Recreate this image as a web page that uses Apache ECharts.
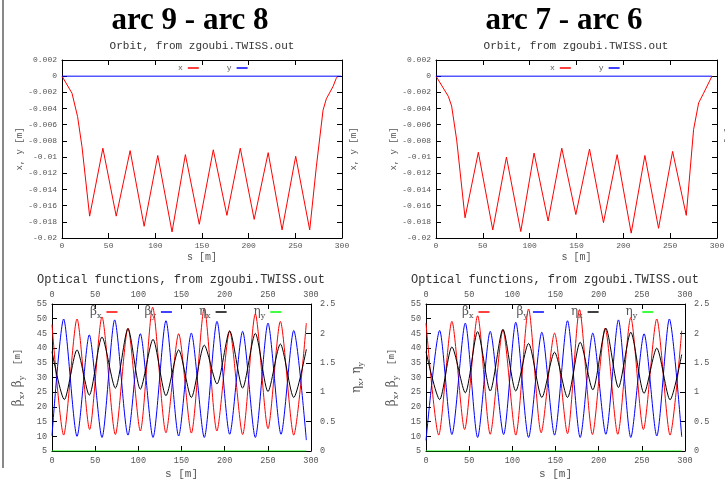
<!DOCTYPE html>
<html>
<head>
<meta charset="utf-8">
<script src="https://cdn.jsdelivr.net/npm/echarts@6/dist/echarts.min.js"></script>
<style>
  html, body { margin: 0; padding: 0; background: #fff; }
  #chart { width: 725px; height: 480px; }
</style>
</head>
<body>
<div id="chart"></div>
<script>
// ---- Closed orbit, arc 9 - arc 8 (s in m, x in m) ----
const orbitA_s = [0, 10.7, 16.7, 21.4, 29.6, 43.8, 58.1, 73.0, 88.0, 102.6, 117.9, 132.2, 147.1, 162.1, 176.7, 191.0, 205.9, 220.9, 235.8, 250.4, 265.4, 272.5, 279.7, 283.2, 290.3, 293.9, 295.7];
const orbitA_x = [0, -0.0021, -0.0050, -0.0087, -0.0173, -0.0089, -0.0173, -0.0092, -0.01855, -0.0098, -0.01925, -0.0097, -0.0183, -0.0091, -0.0172, -0.0089, -0.0177, -0.00945, -0.0190, -0.0099, -0.0190, -0.0112, -0.0042, -0.0028, -0.0013, -0.00025, 0];
const orbitA_ys = [0, 299];
const orbitA_y = [0, 0];

// ---- Closed orbit, arc 7 - arc 6 ----
const orbitB_s = [0, 13.2, 16.7, 22.1, 31.0, 45.2, 60.6, 75.2, 90.5, 104.7, 119.7, 134.3, 149.3, 163.9, 178.8, 193.4, 208.4, 223.0, 237.6, 252.6, 267.2, 275.0, 280.4, 285.7, 294.6];
const orbitB_x = [0, -0.0025, -0.0037, -0.0079, -0.0175, -0.0094, -0.0190, -0.0100, -0.0192, -0.0095, -0.0179, -0.0089, -0.0171, -0.0090, -0.0181, -0.0097, -0.0194, -0.0098, -0.0188, -0.0093, -0.0172, -0.0066, -0.0033, -0.0021, 0];
const orbitB_ys = [0, 294.6];
const orbitB_y = [0, 0];

// ---- Optical functions, arc 9 - arc 8 ----
const betaxA_s = [0, 13.5, 29, 43.6, 57.9, 73.4, 88, 102.3, 116.6, 132, 146.7, 161.4, 176.4, 191, 205.8, 220.8, 235.5, 250.2, 264.5, 280, 294.6];
const betaxA   = [48, 10.4, 49.9, 12.3, 50.6, 10.6, 46.8, 11.8, 53.9, 11.2, 44.9, 11.1, 53.6, 11.8, 45.9, 10.6, 51.6, 12.6, 49.1, 10.4, 48.5];
const betayA_s = [0, 13.5, 29, 43.2, 57.9, 72.6, 88, 102.3, 117, 132, 146.7, 161.4, 176.4, 191.1, 205.8, 220.8, 235.5, 250.2, 265.3, 280, 294.6];
const betayA   = [10.2, 49.9, 10, 44.5, 9.6, 49.6, 10.4, 44.9, 9.6, 49.3, 10.1, 45.1, 9.6, 49.1, 10.7, 45.7, 9.6, 48.5, 10.7, 46, 8.7];
const etaxA_s  = [0, 14.3, 29, 43.2, 57.9, 73.4, 88, 102.3, 117, 132, 146.7, 161.4, 176.4, 191.1, 205.8, 220.8, 235.5, 250.2, 264.5, 280, 294.6];
const etaxA    = [1.69, 0.875, 1.72, 0.95, 1.94, 1.07, 2.08, 1.05, 1.9, 0.94, 1.72, 0.91, 1.8, 1.14, 2.04, 1.07, 2.0, 1.01, 1.82, 0.91, 1.73];
const etayA_s  = [0, 294.6];
const etayA    = [0, 0];

// ---- Optical functions, arc 7 - arc 6 ----
const betaxB_s = [0, 14.7, 30, 44.7, 59.8, 74.4, 89.1, 104, 118.8, 133.4, 148.9, 163.9, 177.8, 192.8, 207.5, 222.1, 237.2, 251.8, 267.3, 282.7, 296.2];
const betaxB   = [48.5, 10.4, 49.1, 12.3, 51, 10.7, 46.2, 10.4, 53.3, 11.2, 45.1, 10.9, 53.1, 10.6, 46.8, 10.7, 50.4, 12.3, 49.9, 10.4, 45.9];
const betayB_s = [0, 15.8, 30, 45.5, 59.8, 74.4, 89.9, 104, 118.8, 134.2, 148.9, 163.9, 178.6, 193.2, 208.3, 222.9, 237.2, 252.6, 267.3, 281.9, 296.2];
const betayB   = [8.6, 46, 10.6, 48.5, 9.6, 45.7, 10.6, 48.8, 9.6, 45.4, 10.4, 49.3, 9.6, 45.1, 10.7, 49.6, 9.6, 44.9, 10.1, 49.9, 9.8];
const etaxB_s  = [0, 15.8, 30, 45.5, 59.8, 74.4, 89.1, 104, 118.8, 134.2, 148.9, 163.9, 178.6, 193.2, 208.3, 222.9, 237.2, 252.6, 267.3, 282.7, 296.2];
const etaxB    = [1.69, 0.875, 1.77, 0.99, 2.03, 1.02, 2.07, 1.02, 1.83, 0.91, 1.68, 0.91, 1.85, 1.04, 2.09, 1.08, 2.02, 0.98, 1.75, 0.87, 1.64];
const etayB_s  = [0, 296.2];
const etayB    = [0, 0];

// ---- Axis ranges and labels ----
const sRange = { min: 0, max: 300, step: 50 };
const orbitRange = { min: -0.02, max: 0.002, step: 0.002 };
const betaRange = { min: 5, max: 55, step: 5 };
const etaRange = { min: 0, max: 2.5, step: 0.5 };
const panelTitles = ['arc 9 - arc 8', 'arc 7 - arc 6'];
const orbitTitle = 'Orbit, from zgoubi.TWISS.out';
const opticsTitle = 'Optical functions, from zgoubi.TWISS.out';

const zip = (xs, ys) => xs.map((x, i) => [x, ys[i]]);

const MONO = '"Liberation Mono", "DejaVu Sans Mono", monospace';
const SERIF = '"DejaVu Serif", "Liberation Serif", serif';
const GREY = '#555';
const RED = '#ff0000', BLUE = '#0000ff', BLACK = '#000000', GREEN = '#00ff00';

const subRich = {
  a: { fontFamily: SERIF, fontSize: 12, color: GREY, lineHeight: 16, verticalAlign: 'middle' },
  s: { fontFamily: SERIF, fontSize: 8, color: GREY, lineHeight: 8, verticalAlign: 'bottom' },
  m: { fontFamily: MONO, fontSize: 9, color: GREY, lineHeight: 16, verticalAlign: 'middle' }
};

function xAxis(grid, position, labels, fontSize, name, nameGap, nameSize, margin) {
  return {
    type: 'value', gridIndex: grid, position: position,
    min: sRange.min, max: sRange.max, interval: sRange.step,
    name: name || '', nameLocation: 'middle', nameGap: nameGap || 18,
    nameTextStyle: { fontFamily: MONO, fontSize: nameSize || 10, color: GREY },
    axisLine: { show: true, onZero: false, lineStyle: { color: '#000', width: 1 } },
    axisTick: { show: true, inside: true, length: 5, lineStyle: { color: '#000' } },
    axisLabel: { show: labels, fontFamily: MONO, fontSize: fontSize, color: GREY, margin: margin || 4 },
    splitLine: { show: false }
  };
}

function yAxis(grid, position, range, labels, name, nameGap, fontSize, fmt, rich, margin) {
  return {
    type: 'value', gridIndex: grid, position: position,
    min: range.min, max: range.max, interval: range.step,
    name: name, nameLocation: 'middle', nameGap: nameGap, nameRotate: 90,
    nameTextStyle: { fontFamily: MONO, fontSize: 9, color: GREY, rich: rich },
    axisLine: { show: true, onZero: false, lineStyle: { color: '#000', width: 1 } },
    axisTick: { show: true, inside: true, length: 5, lineStyle: { color: '#000' } },
    axisLabel: { show: labels, fontFamily: MONO, fontSize: fontSize, color: GREY, margin: margin || 5, formatter: fmt },
    splitLine: { show: false }
  };
}

const orbitFmt = v => String(Math.round(v * 1000) / 1000);
const plainFmt = v => String(Math.round(v * 10) / 10);

function line(name, xi, yi, data, color, smooth) {
  return {
    type: 'line', name: name, xAxisIndex: xi, yAxisIndex: yi,
    data: data, showSymbol: false, symbol: 'none', clip: true,
    smooth: smooth || false,
    lineStyle: { color: color, width: 1 }, itemStyle: { color: color },
    emphasis: { disabled: true }
  };
}

const betaName = '{a|β}{s|x}{a|, β}{s|y}{m|  [m]}';
const etaName = '{a|η}{s|x}{a|, η}{s|y}';

const legendRich = {
  a: { fontFamily: SERIF, fontSize: 12, color: GREY, lineHeight: 16, verticalAlign: 'middle' },
  s: { fontFamily: SERIF, fontSize: 8, color: GREY, lineHeight: 8, verticalAlign: 'bottom' }
};
const opticsLegendFmt = n => '{a|' + n.charAt(0) + '}{s|' + n.slice(1) + '}';

function orbitLegend(left) {
  return {
    data: ['x', 'y'], left: left, top: 64, padding: 0, orient: 'horizontal', align: 'right',
    icon: 'rect', itemWidth: 11, itemHeight: 1.5, itemGap: 28, selectedMode: false,
    textStyle: { fontFamily: MONO, fontSize: 8, color: GREY }
  };
}
function opticsLegend(left) {
  return {
    data: ['βx', 'βy', 'ηx', 'ηy'], left: left, top: 306, padding: 0, orient: 'horizontal', align: 'right',
    icon: 'rect', itemWidth: 11, itemHeight: 1.5, itemGap: 27, selectedMode: false,
    formatter: opticsLegendFmt, textStyle: { rich: legendRich }
  };
}

function titleText(text, x, y, font, fill) {
  return { type: 'text', silent: true,
    style: { text: text, x: x, y: y, font: font, fill: fill, textAlign: 'center', textVerticalAlign: 'middle', verticalAlign: 'middle' } };
}

const SM = 0.25;
const fixedGrid = (left, top, width, height) =>
  ({ left: left, top: top, width: width, height: height, containLabel: false, outerBoundsMode: 'none' });

const option = {
  animation: false,
  backgroundColor: '#fff',
  grid: [
    fixedGrid(62, 60, 280, 178),
    fixedGrid(436, 60, 281, 178),
    fixedGrid(52, 304, 259, 147),
    fixedGrid(426, 304, 259, 147)
  ],
  xAxis: [
    xAxis(0, 'bottom', true, 8, 's [m]', 14, 10, 4),
    xAxis(0, 'top', false, 8),
    xAxis(1, 'bottom', true, 8, 's [m]', 14, 10, 4),
    xAxis(1, 'top', false, 8),
    xAxis(2, 'bottom', true, 8.5, 's [m]', 18, 11, 5),
    xAxis(2, 'top', true, 8.5, '', 0, 10, 5),
    xAxis(3, 'bottom', true, 8.5, 's [m]', 18, 11, 5),
    xAxis(3, 'top', true, 8.5, '', 0, 10, 5)
  ],
  yAxis: [
    yAxis(0, 'left', orbitRange, true, 'x, y [m]', 36, 8, orbitFmt),
    yAxis(0, 'right', orbitRange, false, 'x, y [m]', 7, 8, orbitFmt),
    yAxis(1, 'left', orbitRange, true, 'x, y [m]', 36, 8, orbitFmt),
    yAxis(1, 'right', orbitRange, false, 'x, y [m]', 7, 8, orbitFmt),
    yAxis(2, 'left', betaRange, true, betaName, 26, 8.5, plainFmt, subRich),
    yAxis(2, 'right', etaRange, true, etaName, 38, 8.5, plainFmt, subRich, 9),
    yAxis(3, 'left', betaRange, true, betaName, 26, 8.5, plainFmt, subRich),
    yAxis(3, 'right', etaRange, true, etaName, 38, 8.5, plainFmt, subRich, 9)
  ],
  legend: [orbitLegend(178), orbitLegend(550), opticsLegend(90), opticsLegend(462)],
  series: [
    line('x', 0, 0, zip(orbitA_s, orbitA_x), RED),
    line('y', 0, 0, zip(orbitA_ys, orbitA_y), BLUE),
    line('x', 2, 2, zip(orbitB_s, orbitB_x), RED),
    line('y', 2, 2, zip(orbitB_ys, orbitB_y), BLUE),
    line('βx', 4, 4, zip(betaxA_s, betaxA), RED, SM),
    line('βy', 4, 4, zip(betayA_s, betayA), BLUE, SM),
    line('ηx', 4, 5, zip(etaxA_s, etaxA), BLACK, SM),
    line('ηy', 4, 5, zip(etayA_s, etayA), GREEN),
    line('βx', 6, 6, zip(betaxB_s, betaxB), RED, SM),
    line('βy', 6, 6, zip(betayB_s, betayB), BLUE, SM),
    line('ηx', 6, 7, zip(etaxB_s, etaxB), BLACK, SM),
    line('ηy', 6, 7, zip(etayB_s, etayB), GREEN)
  ],
  graphic: [
    { type: 'line', silent: true, shape: { x1: 3, y1: 0, x2: 3, y2: 468 }, style: { stroke: '#888', lineWidth: 2 } },
    titleText(panelTitles[0], 190, 21, 'bold 31px "Liberation Serif", "Times New Roman", serif', '#000'),
    titleText(panelTitles[1], 564, 21, 'bold 31px "Liberation Serif", "Times New Roman", serif', '#000'),
    titleText(orbitTitle, 202, 46, '11px ' + MONO, '#333'),
    titleText(orbitTitle, 576, 46, '11px ' + MONO, '#333'),
    titleText(opticsTitle, 181, 280, '12px ' + MONO, '#333'),
    titleText(opticsTitle, 555, 280, '12px ' + MONO, '#333')
  ]
};

const chart = echarts.init(document.getElementById('chart'), null, { renderer: 'canvas' });
chart.setOption(option);
</script>
</body>
</html>
